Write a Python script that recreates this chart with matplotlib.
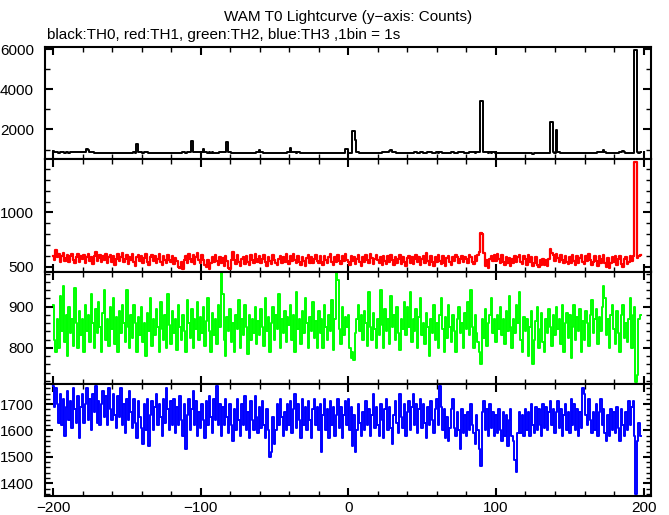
import numpy as np
import matplotlib
matplotlib.use("Agg")
import matplotlib.pyplot as plt
from matplotlib.ticker import MultipleLocator

plt.rcParams['font.family'] = ['Liberation Sans', 'DejaVu Sans']

# time bins (1 s) relative to T0
t_start, t_stop = -200, 198

th0 = [
    940, 870, 860, 860, 850, 860, 855, 860, 850, 860, 855, 850, 860, 855, 860, 870, 860, 855, 870, 865,
    880, 870, 900, 1050, 960, 870, 880, 860, 850, 840, 845, 840, 835, 840, 830, 840, 835, 830, 840, 835,
    830, 835, 840, 830, 835, 830, 840, 835, 830, 840, 845, 840, 850, 845, 840, 860, 850, 1270, 880, 860,
    870, 850, 860, 870, 855, 850, 840, 845, 850, 840, 835, 840, 845, 850, 840, 845, 850, 840, 835, 840,
    840, 845, 850, 840, 835, 845, 840, 850, 860, 855, 850, 860, 870, 880, 1420, 900, 880, 870, 860, 870,
    860, 870, 1010, 900, 870, 850, 860, 850, 855, 845, 850, 845, 850, 860, 870, 880, 870, 860, 1370, 880,
    860, 840, 830, 835, 830, 840, 830, 835, 840, 830, 825, 830, 835, 840, 830, 835, 840, 850, 860, 870,
    970, 880, 860, 850, 845, 840, 845, 840, 835, 840, 830, 835, 840, 845, 840, 835, 840, 845, 850, 860,
    880, 1080, 900, 870, 860, 850, 860, 855, 845, 850, 840, 845, 840, 835, 840, 830, 820, 825, 830, 825,
    830, 820, 825, 830, 820, 815, 820, 825, 830, 820, 825, 830, 820, 825, 830, 835, 830, 825, 1050, 1050,
    830, 840, 830, 1900, 1900, 1500, 880, 860, 850, 845, 840, 845, 850, 840, 835, 840, 845, 840, 850, 845,
    850, 845, 850, 855, 860, 870, 880, 900, 950, 960, 880, 870, 860, 850, 845, 840, 850, 845, 840, 850,
    845, 850, 840, 845, 850, 860, 855, 850, 845, 860, 855, 850, 845, 850, 860, 870, 855, 850, 845, 850,
    855, 850, 860, 855, 850, 845, 840, 850, 845, 850, 860, 855, 850, 845, 850, 860, 870, 865, 855, 850,
    845, 850, 860, 870, 860, 855, 850, 860, 870, 880, 3400, 3400, 900, 880, 860, 850, 855, 850, 860, 855,
    850, 845, 850, 840, 835, 840, 845, 850, 840, 845, 850, 840, 845, 850, 840, 835, 840, 845, 850, 845,
    840, 845, 850, 845, 840, 800, 820, 840, 845, 850, 845, 840, 835, 840, 830, 835, 840, 2380, 2380, 860,
    850, 1960, 870, 860, 850, 845, 850, 840, 835, 840, 845, 850, 845, 840, 835, 840, 845, 850, 845, 840,
    835, 840, 845, 850, 840, 835, 840, 845, 850, 855, 860, 880, 900, 1000, 880, 850, 845, 840, 835, 840,
    835, 840, 830, 835, 860, 900, 930, 880, 850, 845, 840, 835, 840, 850, 5950, 5950, 860, 850, 880,
]

th1 = [
    600, 560, 650, 590, 620, 545, 600, 630, 555, 580, 610, 540, 595, 620, 560, 530, 590, 615, 545, 600,
    570, 610, 530, 585, 620, 550, 590, 525, 600, 635, 555, 580, 610, 540, 595, 565, 620, 530, 585, 605,
    545, 600, 520, 575, 615, 550, 590, 630, 540, 575, 605, 525, 590, 560, 620, 545, 510, 585, 610, 555,
    595, 530, 580, 620, 545, 515, 590, 610, 550, 600, 535, 575, 615, 545, 520, 595, 560, 530, 610, 565,
    540, 600, 525, 580, 550, 500, 485, 540, 480, 565, 600, 535, 615, 570, 545, 605, 525, 590, 625, 560,
    535, 605, 565, 515, 500, 560, 475, 530, 590, 545, 610, 555, 520, 590, 535, 580, 510, 600, 550, 490,
    480, 560, 635, 565, 525, 605, 545, 505, 570, 590, 525, 595, 545, 515, 610, 560, 530, 615, 570, 540,
    600, 530, 575, 610, 540, 510, 590, 555, 525, 605, 565, 535, 515, 575, 600, 530, 585, 545, 615, 555,
    525, 595, 550, 620, 565, 530, 600, 545, 520, 590, 555, 510, 580, 605, 530, 585, 535, 570, 610, 550,
    530, 595, 545, 520, 600, 560, 530, 590, 615, 545, 520, 585, 540, 605, 555, 525, 595, 550, 620, 565,
    540, 520, 600, 550, 590, 525, 575, 610, 545, 510, 585, 540, 605, 560, 530, 620, 580, 525, 570, 610,
    565, 530, 585, 520, 600, 550, 525, 595, 540, 610, 560, 520, 590, 535, 575, 605, 525, 585, 545, 510,
    580, 600, 535, 590, 525, 570, 610, 540, 585, 520, 575, 600, 530, 630, 555, 520, 595, 540, 505, 585,
    540, 605, 550, 525, 595, 535, 510, 580, 600, 540, 520, 590, 550, 605, 585, 530, 575, 600, 545, 590,
    575, 530, 605, 585, 545, 525, 595, 550, 605, 640, 815, 800, 630, 505, 560, 490, 575, 600, 555, 610,
    550, 620, 575, 535, 605, 545, 520, 590, 530, 580, 505, 570, 530, 600, 540, 585, 610, 545, 525, 595,
    575, 520, 605, 545, 590, 510, 535, 585, 520, 500, 560, 515, 575, 520, 565, 505, 575, 663, 630, 610,
    555, 620, 580, 540, 605, 560, 530, 595, 545, 525, 590, 535, 605, 550, 520, 595, 535, 580, 610, 545,
    525, 595, 550, 620, 565, 520, 540, 600, 555, 510, 595, 530, 575, 610, 530, 500, 580, 485, 530, 590,
    540, 600, 520, 575, 595, 525, 500, 570, 590, 525, 545, 595, 550, 600, 1465, 1465, 580, 600, 610,
]

th2 = [
    905, 820, 790, 870, 800, 925, 840, 950, 815, 880, 780, 900, 835, 870, 805, 945, 860, 800, 890, 830,
    870, 790, 905, 840, 880, 815, 930, 860, 800, 895, 835, 910, 850, 790, 885, 940, 820, 870, 805, 900,
    845, 920, 810, 875, 790, 890, 835, 905, 860, 815, 940, 850, 800, 880, 825, 905, 860, 790, 875, 830,
    900, 815, 860, 780, 885, 840, 920, 805, 870, 830, 895, 850, 790, 910, 845, 820, 880, 800, 930, 855,
    810, 890, 835, 870, 795, 905, 850, 820, 880, 840, 790, 915, 860, 825, 895, 800, 870, 845, 910, 820,
    875, 835, 900, 805, 865, 920, 840, 790, 885, 830, 870, 810, 905, 850, 985, 930, 820, 780, 875, 840,
    895, 815, 860, 790, 880, 845, 915, 800, 870, 830, 905, 850, 785, 880, 820, 870, 835, 900, 810, 865,
    830, 895, 850, 805, 920, 840, 875, 790, 860, 900, 820, 880, 845, 930, 800, 870, 835, 890, 815, 875,
    855, 905, 820, 880, 790, 935, 845, 870, 810, 890, 835, 920, 860, 800, 875, 840, 910, 825, 865, 800,
    890, 835, 870, 800, 905, 850, 820, 880, 840, 915, 795, 870, 985, 965, 845, 810, 900, 830, 875, 850,
    880, 800, 775, 790, 770, 835, 870, 905, 840, 880, 820, 890, 860, 805, 935, 850, 820, 885, 845, 800,
    870, 830, 940, 855, 800, 895, 840, 870, 810, 925, 850, 880, 820, 900, 835, 795, 870, 845, 910, 830,
    900, 850, 935, 815, 870, 840, 895, 800, 875, 920, 830, 860, 810, 885, 850, 780, 870, 835, 905, 820,
    860, 800, 880, 920, 845, 790, 875, 825, 905, 850, 815, 880, 840, 790, 870, 900, 835, 860, 800, 885,
    845, 910, 830, 940, 850, 800, 880, 835, 815, 790, 760, 870, 825, 895, 805, 860, 880, 920, 835, 870,
    815, 880, 845, 900, 830, 870, 810, 890, 840, 925, 850, 800, 870, 835, 905, 860, 935, 820, 790, 875,
    840, 870, 780, 850, 890, 760, 820, 865, 900, 800, 845, 885, 815, 790, 870, 835, 895, 850, 805, 880,
    830, 900, 845, 870, 810, 905, 790, 860, 885, 825, 880, 775, 850, 905, 820, 875, 840, 895, 790, 865,
    820, 890, 860, 805, 880, 915, 835, 870, 895, 810, 875, 840, 900, 950, 920, 830, 870, 800, 880, 905,
    845, 810, 890, 835, 790, 880, 905, 825, 860, 815, 870, 920, 800, 880, 900, 717, 735, 870, 880,
]

th3 = [
    1770, 1690, 1760, 1700, 1630, 1740, 1620, 1720, 1580, 1690, 1750, 1640, 1710, 1610, 1760, 1680, 1630, 1730, 1570, 1690,
    1740, 1630, 1700, 1760, 1640, 1720, 1600, 1740, 1670, 1770, 1630, 1710, 1620, 1700, 1750, 1650, 1730, 1620, 1760, 1680,
    1640, 1740, 1660, 1610, 1730, 1650, 1760, 1620, 1700, 1590, 1720, 1640, 1750, 1670, 1610, 1720, 1630, 1570, 1710, 1650,
    1610, 1550, 1700, 1600, 1720, 1540, 1660, 1710, 1600, 1690, 1740, 1620, 1700, 1650, 1580, 1720, 1630, 1760, 1680, 1600,
    1710, 1620, 1720, 1590, 1690, 1620, 1730, 1640, 1580, 1700, 1530, 1660, 1720, 1600, 1680, 1750, 1620, 1710, 1580, 1670,
    1610, 1700, 1640, 1570, 1710, 1620, 1730, 1650, 1590, 1720, 1640, 1770, 1620, 1700, 1580, 1690, 1620, 1720, 1650, 1590,
    1700, 1620, 1560, 1680, 1600, 1720, 1640, 1580, 1700, 1620, 1730, 1600, 1670, 1570, 1710, 1640, 1600, 1730, 1650, 1590,
    1690, 1610, 1710, 1620, 1570, 1680, 1600, 1500, 1520, 1650, 1550, 1600, 1700, 1620, 1720, 1650, 1580, 1670, 1600, 1700,
    1620, 1710, 1590, 1680, 1740, 1610, 1700, 1640, 1570, 1720, 1620, 1690, 1600, 1710, 1640, 1570, 1680, 1720, 1620, 1690,
    1600, 1700, 1520, 1660, 1720, 1600, 1680, 1570, 1710, 1620, 1690, 1580, 1660, 1720, 1610, 1690, 1570, 1660, 1710, 1620,
    1720, 1600, 1690, 1540, 1660, 1520, 1600, 1700, 1630, 1580, 1670, 1600, 1710, 1620, 1680, 1580, 1660, 1740, 1610, 1690,
    1620, 1580, 1700, 1640, 1570, 1680, 1720, 1600, 1690, 1610, 1550, 1660, 1710, 1630, 1590, 1740, 1650, 1610, 1700, 1580,
    1670, 1710, 1600, 1690, 1740, 1620, 1700, 1590, 1680, 1720, 1610, 1700, 1630, 1570, 1690, 1620, 1710, 1640, 1590, 1680,
    1720, 1620, 1770, 1690, 1600, 1680, 1570, 1650, 1560, 1610, 1680, 1720, 1610, 1580, 1670, 1600, 1530, 1680, 1590, 1660,
    1580, 1670, 1600, 1700, 1620, 1590, 1550, 1660, 1600, 1530, 1467, 1670, 1710, 1600, 1680, 1580, 1700, 1610, 1670, 1580,
    1660, 1590, 1680, 1600, 1560, 1670, 1580, 1660, 1540, 1640, 1680, 1580, 1560, 1490, 1442, 1590, 1670, 1590, 1660, 1580,
    1680, 1600, 1670, 1580, 1700, 1620, 1590, 1690, 1600, 1680, 1620, 1580, 1700, 1610, 1690, 1600, 1670, 1710, 1620, 1680,
    1590, 1670, 1710, 1610, 1680, 1580, 1660, 1700, 1600, 1670, 1590, 1720, 1620, 1700, 1600, 1680, 1580, 1670, 1610, 1760,
    1740, 1660, 1620, 1720, 1640, 1590, 1670, 1600, 1700, 1580, 1670, 1720, 1620, 1680, 1590, 1560, 1660, 1580, 1680, 1600,
    1670, 1590, 1690, 1610, 1560, 1680, 1620, 1580, 1670, 1600, 1710, 1620, 1690, 1710, 1580, 1360, 1560, 1630, 1580,
]

series = [th0, th1, th2, th3]
colors = ['black', '#ff0000', '#00ff00', '#0000ff']
widths = [1.4, 1.6, 1.4, 1.4]
ylims = [(515, 6115), (456, 1490), (713, 985), (1352, 1777)]
major_y = [2000, 500, 100, 100]
minor_y = [1000, 100, 20, 20]

t = np.arange(t_start, t_stop + 1)

fig = plt.figure(figsize=(6.69, 5.15), dpi=100)
left, right = 45 / 669, 651 / 669
top, bottom = 1 - 47 / 515, 1 - 496 / 515
h = (top - bottom) / 4

for k in range(4):
    ax = fig.add_axes([left, top - (k + 1) * h, right - left, h])
    ax.plot(t, series[k], drawstyle='steps-mid', color=colors[k], lw=widths[k])
    ax.set_xlim(-205.4, 205)
    ax.set_ylim(*ylims[k])
    ax.xaxis.set_major_locator(MultipleLocator(100))
    ax.xaxis.set_minor_locator(MultipleLocator(20))
    ax.yaxis.set_major_locator(MultipleLocator(major_y[k]))
    ax.yaxis.set_minor_locator(MultipleLocator(minor_y[k]))
    ax.tick_params(which='both', direction='in', top=True, right=True, labelsize=11)
    ax.tick_params(which='major', length=6, width=1.5)
    ax.tick_params(which='minor', length=3.5, width=1)
    ax.tick_params(axis='y', pad=8)
    for s in ax.spines.values():
        s.set_linewidth(1.5)
    if k < 3:
        ax.tick_params(labelbottom=False)

fig.text(348 / 669, 1 - 17 / 515, 'WAM T0 Lightcurve (y\u2212axis: Counts)',
         ha='center', va='center', fontsize=11)
fig.text(47 / 669, 1 - 35 / 515, 'black:TH0, red:TH1, green:TH2, blue:TH3 ,1bin = 1s',
         ha='left', va='center', fontsize=11)

fig.savefig('out.png', dpi=100)
